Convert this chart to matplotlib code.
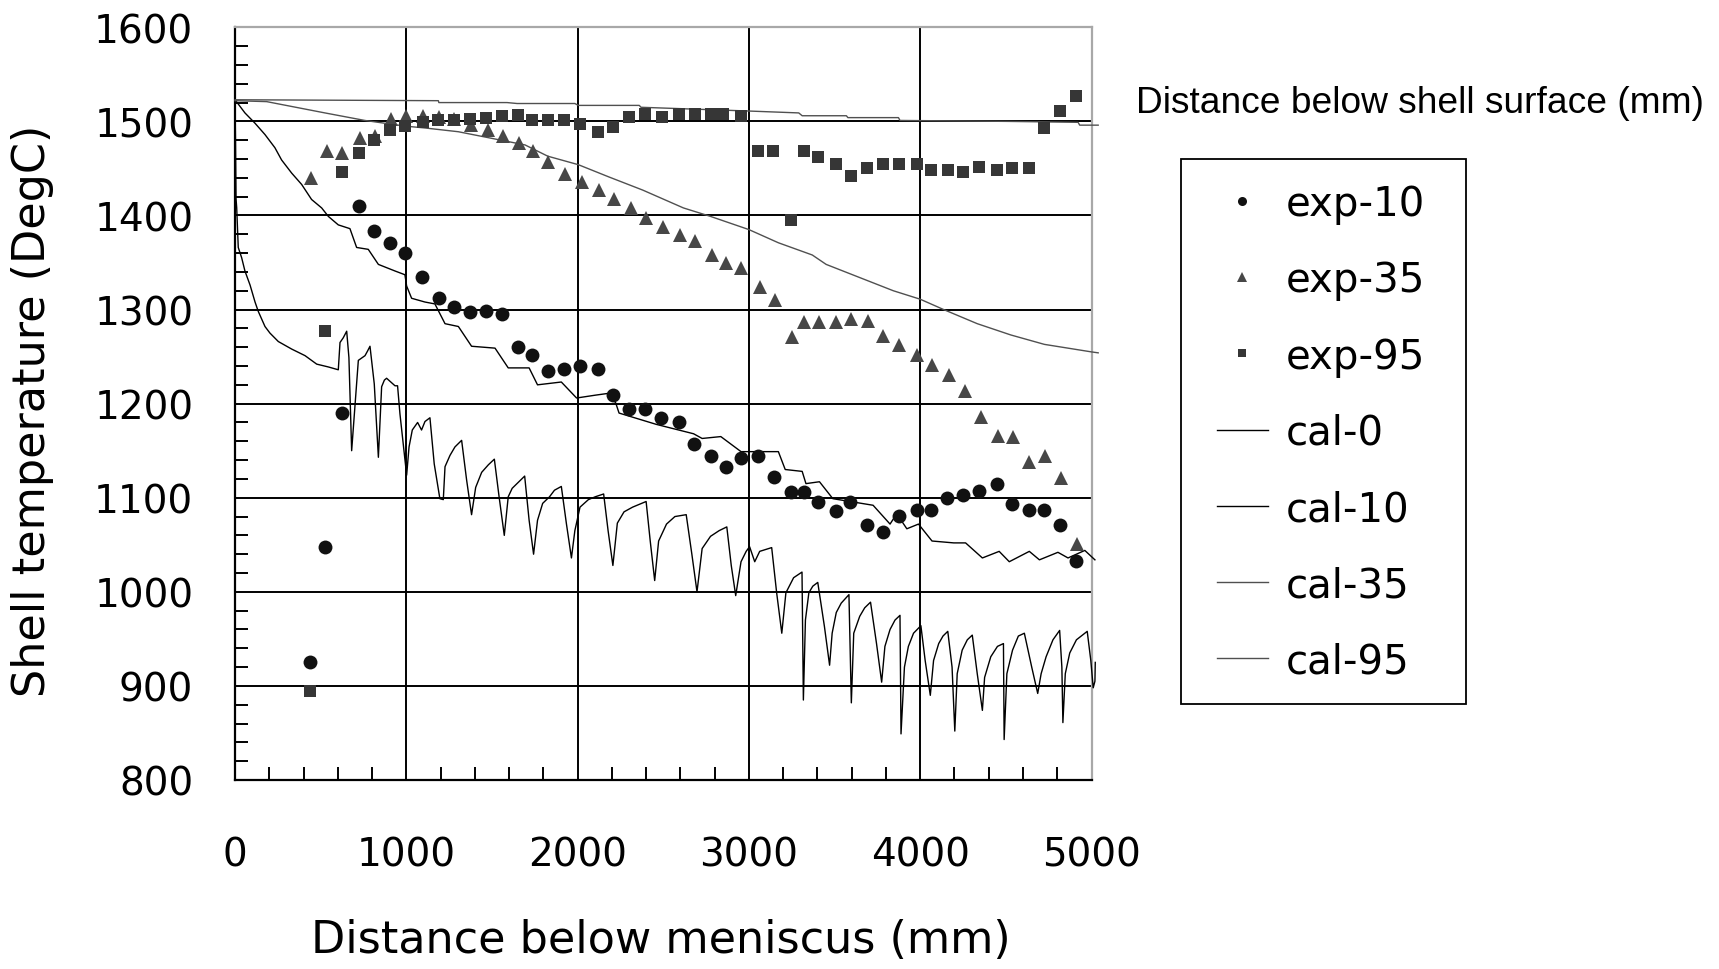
import matplotlib
matplotlib.use("Agg")
import matplotlib.pyplot as plt
from matplotlib.ticker import MultipleLocator
from matplotlib.lines import Line2D
from matplotlib.patches import Rectangle

# measured shell temperature, distance below meniscus (mm) -> DegC
exp10_x = [438, 525, 622, 724, 813, 905, 992, 1093, 1193, 1280, 1372, 1465, 1556, 1650, 1731,
           1826, 1921, 2014, 2119, 2208, 2301, 2396, 2489, 2594, 2677, 2776, 2865, 2954, 3053,
           3149, 3248, 3320, 3402, 3510, 3592, 3690, 3780, 3878, 3980, 4063, 4157, 4251, 4345,
           4451, 4533, 4637, 4722, 4814, 4912]
exp10_y = [925, 1048, 1190, 1410, 1383, 1371, 1360, 1335, 1312, 1303, 1297, 1299, 1295, 1260, 1252,
           1235, 1237, 1240, 1237, 1209, 1194, 1194, 1185, 1180, 1157, 1144, 1133, 1142, 1144,
           1122, 1106, 1106, 1096, 1086, 1095, 1071, 1064, 1081, 1087, 1087, 1100, 1103, 1107,
           1115, 1093, 1087, 1087, 1071, 1033]

exp35_x = [445, 535, 626, 730, 817, 909, 998, 1097, 1193, 1280, 1377, 1475, 1566, 1655, 1737,
           1830, 1929, 2024, 2123, 2212, 2311, 2400, 2499, 2598, 2687, 2782, 2865, 2954, 3063,
           3152, 3251, 3320, 3408, 3510, 3598, 3696, 3784, 3878, 3984, 4069, 4167, 4259, 4353,
           4455, 4539, 4637, 4729, 4824, 4916]
exp35_y = [1440, 1468, 1466, 1482, 1484, 1503, 1506, 1506, 1505, 1503, 1496, 1491, 1485, 1477, 1468,
           1457, 1444, 1436, 1427, 1418, 1408, 1397, 1388, 1379, 1373, 1358, 1350, 1344, 1324,
           1310, 1271, 1287, 1287, 1287, 1290, 1288, 1272, 1262, 1252, 1241, 1230, 1213, 1186,
           1166, 1165, 1138, 1144, 1121, 1051]

exp95_x = [438, 525, 622, 724, 813, 905, 992, 1095, 1187, 1280, 1372, 1465, 1560, 1650, 1731,
           1826, 1921, 2014, 2119, 2208, 2301, 2396, 2491, 2594, 2683, 2776, 2851, 2954, 3053,
           3143, 3248, 3320, 3404, 3510, 3594, 3690, 3780, 3875, 3980, 4063, 4161, 4251, 4345,
           4451, 4533, 4633, 4722, 4818, 4912]
exp95_y = [895, 1277, 1446, 1466, 1480, 1491, 1495, 1499, 1501, 1501, 1503, 1504, 1506, 1507, 1501,
           1501, 1501, 1497, 1489, 1494, 1505, 1508, 1505, 1508, 1508, 1508, 1508, 1506, 1468,
           1468, 1395, 1468, 1462, 1455, 1442, 1450, 1455, 1455, 1455, 1448, 1448, 1446, 1452,
           1448, 1450, 1450, 1493, 1511, 1527]

# calculated temperature at the shell surface (roll contact sawtooth)
cal0_x = [0, 3, 6, 10, 19, 39, 58, 88, 117, 136, 175, 204, 253, 331, 409, 477, 545, 603,
          613, 632, 652, 665, 681, 720, 759, 774, 788, 813, 837, 856, 872, 885, 934, 949, 963,
          1002, 1016, 1035, 1066, 1089, 1109, 1138, 1163, 1196, 1216, 1226, 1255, 1284, 1323,
          1352, 1381, 1405, 1440, 1479, 1514, 1541, 1572, 1595, 1618, 1657, 1691, 1717, 1743,
          1766, 1796, 1836, 1865, 1905, 1935, 1964, 1984, 2014, 2063, 2103, 2152, 2178, 2206,
          2232, 2271, 2321, 2400, 2424, 2450, 2473, 2519, 2568, 2634, 2667, 2697, 2727, 2776,
          2826, 2871, 2897, 2923, 2954, 2984, 3004, 3034, 3063, 3133, 3162, 3192, 3216, 3261,
          3310, 3318, 3330, 3350, 3373, 3402, 3441, 3471, 3486, 3510, 3539, 3584, 3598, 3612,
          3647, 3676, 3710, 3745, 3775, 3794, 3824, 3853, 3882, 3888, 3908, 3931, 3961, 4004,
          4029, 4059, 4078, 4108, 4133, 4161, 4186, 4202, 4216, 4245, 4275, 4304, 4333, 4363,
          4376, 4412, 4451, 4486, 4490, 4506, 4539, 4573, 4608, 4651, 4686, 4706, 4735, 4775,
          4814, 4827, 4833, 4847, 4873, 4912, 4975, 4996, 5010, 5020, 5022]
cal0_y = [1520, 1478, 1418, 1408, 1366, 1355, 1341, 1326, 1308, 1298, 1282, 1275, 1266, 1258, 1251, 1242, 1239, 1236,
          1265, 1270, 1277, 1249, 1150, 1246, 1251, 1256, 1261, 1221, 1143, 1218, 1225, 1227, 1219, 1219, 1189,
          1124, 1154, 1172, 1180, 1172, 1181, 1185, 1136, 1099, 1098, 1133, 1145, 1154, 1161,
          1119, 1082, 1111, 1127, 1135, 1141, 1102, 1060, 1101, 1110, 1117, 1123, 1076, 1040,
          1076, 1094, 1101, 1108, 1112, 1072, 1036, 1065, 1090, 1098, 1101, 1104, 1065, 1028,
          1073, 1085, 1090, 1096, 1054, 1012, 1054, 1072, 1080, 1082, 1040, 1000, 1046, 1059,
          1065, 1069, 1028, 996, 1032, 1043, 1048, 1032, 1043, 1047, 999, 956, 999, 1015,
          1021, 885, 970, 999, 1006, 1010, 963, 922, 956, 978, 988, 997, 882, 956,
          974, 983, 989, 945, 904, 942, 960, 970, 975, 849, 920, 942, 956, 964,
          927, 890, 927, 945, 953, 958, 920, 852, 913, 938, 949, 954, 913, 874,
          909, 931, 942, 945, 843, 913, 938, 953, 956, 920, 892, 913, 931, 949,
          959, 920, 861, 913, 935, 949, 958, 927, 898, 905, 925]

# calculated, 10 mm below surface
cal10_x = [0, 58, 117, 175, 233, 272, 331, 389, 447, 506, 545, 603, 671, 710, 778, 837, 934, 992,
           1002, 1031, 1109, 1167, 1226, 1304, 1381, 1518, 1595, 1717, 1766, 1905, 1994, 2103,
           2182, 2222, 2242, 2459, 2677, 2727, 2836, 2954, 3172, 3212, 3311, 3333, 3412, 3490,
           3725, 3824, 3863, 3922, 3990, 4069, 4196, 4265, 4363, 4461, 4520, 4637, 4696, 4804,
           4863, 4961, 5020]
cal10_y = [1523, 1509, 1498, 1486, 1472, 1459, 1445, 1433, 1417, 1408, 1399, 1390, 1386, 1366, 1364, 1348, 1341, 1337,
           1325, 1312, 1308, 1306, 1285, 1282, 1261, 1259, 1238, 1238, 1220, 1223, 1206, 1209,
           1211, 1201, 1190, 1178, 1168, 1163, 1165, 1149, 1149, 1130, 1128, 1115, 1117, 1099,
           1092, 1072, 1083, 1067, 1072, 1054, 1052, 1052, 1036, 1043, 1032, 1043, 1034, 1042,
           1036, 1044, 1034]

# calculated, 35 mm below surface
cal35_x = [0, 185, 525, 758, 992, 1109, 1304, 1498, 1693, 1826, 2004, 2182, 2380, 2618, 2776,
           3000, 3172, 3370, 3451, 3647, 3843, 4000, 4137, 4333, 4529, 4725, 5000, 5039]
cal35_y = [1522, 1521, 1509, 1501, 1495, 1493, 1489, 1482, 1475, 1463, 1454, 1441, 1427, 1408, 1399,
           1385, 1371, 1358, 1348, 1334, 1320, 1311, 1300, 1285, 1273, 1263, 1255, 1254]

# calculated, 95 mm below surface
cal95_x = [0, 1187, 1190, 1588, 1647, 1984, 2004, 2360, 2370, 3000, 3291, 3311, 3569, 3578,
           3873, 3882, 4510, 4922, 4931, 5039]
cal95_y = [1523, 1522, 1520, 1520, 1519, 1519, 1517, 1517, 1515, 1511, 1509, 1506, 1506, 1504,
           1504, 1501, 1500, 1499, 1496, 1496]

W, H = 1719, 970
fig = plt.figure(figsize=(W / 100, H / 100), dpi=100, facecolor='white')
ax = fig.add_axes([235 / W, 1 - 781 / H, (1091.5 - 235) / W, (781 - 28.3) / H])

ax.plot(cal0_x, cal0_y, color='black', lw=1.0, clip_on=False, zorder=3)
ax.plot(cal10_x, cal10_y, color='black', lw=1.0, clip_on=False, zorder=3)
ax.plot(cal35_x, cal35_y, color='#505050', lw=1.0, clip_on=False, zorder=3)
ax.plot(cal95_x, cal95_y, color='#505050', lw=1.0, clip_on=False, zorder=3)

ax.plot(exp10_x, exp10_y, 'o', color='#111111', ms=10, mew=0, zorder=4)
ax.plot(exp35_x, exp35_y, '^', color='#474747', ms=9.6, mew=0, zorder=4)
ax.plot(exp95_x, exp95_y, 's', color='#363636', ms=8.8, mew=0, zorder=4)

ax.set_xlim(0, 5000)
ax.set_ylim(800, 1600)
ax.xaxis.set_major_locator(MultipleLocator(1000))
ax.xaxis.set_minor_locator(MultipleLocator(200))
ax.yaxis.set_major_locator(MultipleLocator(100))
ax.yaxis.set_minor_locator(MultipleLocator(20))
ax.grid(which='major', color='black', lw=1.4)
ax.set_axisbelow(True)

ax.tick_params(which='both', direction='in', top=False, right=False, width=1.4, color='black')
ax.tick_params(which='major', length=0)
ax.tick_params(which='minor', length=9.2)
ax.tick_params(axis='y', which='major', labelsize=28, pad=30)
ax.tick_params(axis='x', which='major', labelsize=28, pad=40)

for side in ['left', 'bottom']:
    ax.spines[side].set_color('black')
    ax.spines[side].set_linewidth(1.6)
for side in ['top', 'right']:
    ax.spines[side].set_color('#a8a8a8')
    ax.spines[side].set_linewidth(1.6)

fig.text(661 / W, 1 - 941 / H, 'Distance below meniscus (mm)', fontsize=32,
         ha='center', va='center')
fig.text(33 / W, 1 - 411 / H, 'Shell temperature (DegC)', fontsize=32,
         rotation=90, ha='center', va='center')
fig.text(1136 / W, 1 - 104 / H, 'Distance below shell surface (mm)', fontsize=26.7,
         family='Liberation Sans', ha='left', va='center')

handles = [
    Line2D([], [], ls='none', marker='o', color='#111111', ms=6.5, mew=0),
    Line2D([], [], ls='none', marker='^', color='#474747', ms=6.5, mew=0),
    Line2D([], [], ls='none', marker='s', color='#363636', ms=5.8, mew=0),
    Line2D([], [], color='black', lw=1.0),
    Line2D([], [], color='black', lw=1.0),
    Line2D([], [], color='#505050', lw=1.0),
    Line2D([], [], color='#505050', lw=1.0),
]
labels = ['exp-10', 'exp-35', 'exp-95', 'cal-0', 'cal-10', 'cal-35', 'cal-95']
fig.legend(handles, labels, loc='upper left', bbox_to_anchor=(1217 / W, 1 - 185 / H),
           bbox_transform=fig.transFigure, frameon=False, borderpad=0, borderaxespad=0,
           fontsize=29, handlelength=1.26, handletextpad=0.44, labelspacing=0.9)
fig.patches.append(Rectangle((1181 / W, 1 - 705 / H), (1466 - 1181) / W, (705 - 160) / H,
                             transform=fig.transFigure, fill=False, edgecolor='black', lw=1.3))

fig.savefig('out.png', dpi=100)
